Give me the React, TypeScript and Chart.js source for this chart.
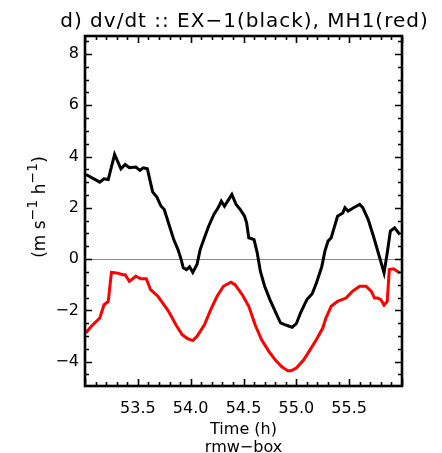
import { useEffect, useRef } from "react";
import { Chart, registerables } from "chart.js";

Chart.register(...registerables);

// EX-1 (black) series
const exTimes = [
  53.01, 53.14, 53.18, 53.22, 53.28, 53.34, 53.38, 53.42, 53.48, 53.52, 53.55, 53.59,
  53.64, 53.68, 53.72, 53.75, 53.8, 53.84, 53.88, 53.91, 53.93, 53.96, 53.99, 54.02,
  54.06, 54.09, 54.13, 54.17, 54.22, 54.26, 54.29, 54.32, 54.35, 54.39, 54.43, 54.47,
  54.51, 54.53, 54.55, 54.6, 54.63, 54.66, 54.7, 54.75, 54.8, 54.85, 54.89, 54.92,
  54.96, 55.0, 55.04, 55.1, 55.15, 55.19, 55.24, 55.27, 55.3, 55.33, 55.39, 55.44,
  55.46, 55.49, 55.55, 55.6, 55.63, 55.68, 55.73, 55.78, 55.83, 55.86, 55.89, 55.93,
  55.98,
];
const exValues = [
  3.3, 3.0, 3.13, 3.1, 4.08, 3.52, 3.69, 3.56, 3.59, 3.46, 3.56, 3.52,
  2.62, 2.42, 2.06, 1.93, 1.28, 0.76, 0.37, -0.02, -0.34, -0.41, -0.3, -0.52,
  -0.21, 0.37, 0.83, 1.28, 1.74, 2.0, 2.26, 2.06, 2.26, 2.52, 2.13, 1.93,
  1.67, 1.4, 0.83, 0.76, 0.24, -0.48, -1.06, -1.58, -2.04, -2.49, -2.56, -2.6,
  -2.66, -2.52, -2.1, -1.58, -1.35, -0.93, -0.31, 0.3, 0.7, 0.83, 1.67, 1.8,
  2.0, 1.87, 2.02, 2.13, 2.0, 1.54, 0.89, 0.18, -0.54, 0.24, 1.09, 1.22,
  0.96,
];

// MH1 (red) series
const mhTimes = [
  53.01, 53.06, 53.14, 53.18, 53.22, 53.25, 53.3, 53.36, 53.38, 53.42, 53.48, 53.53,
  53.58, 53.62, 53.69, 53.78, 53.8, 53.86, 53.92, 53.97, 54.02, 54.06, 54.13, 54.19,
  54.25, 54.31, 54.38, 54.42, 54.49, 54.55, 54.61, 54.67, 54.74, 54.8, 54.86, 54.92,
  54.95, 55.0, 55.07, 55.13, 55.19, 55.25, 55.28, 55.33, 55.39, 55.47, 55.53, 55.6,
  55.66, 55.71, 55.74, 55.77, 55.8, 55.83, 55.86, 55.88, 55.92, 55.98,
];
const mhValues = [
  -2.88, -2.62, -2.3, -1.78, -1.65, -0.52, -0.54, -0.61, -0.61, -0.87, -0.67, -0.77,
  -0.77, -1.19, -1.45, -1.97, -2.1, -2.56, -2.95, -3.1, -3.18, -3.01, -2.56, -1.97,
  -1.45, -1.06, -0.9, -1.0, -1.4, -1.84, -2.56, -3.14, -3.6, -3.93, -4.19, -4.36,
  -4.36, -4.25, -3.93, -3.54, -3.14, -2.69, -2.3, -1.84, -1.65, -1.52, -1.26, -1.06,
  -1.06, -1.26, -1.52, -1.52, -1.58, -1.8, -1.65, -0.41, -0.38, -0.54,
];

const xTickValues = [53.5, 54.0, 54.5, 55.0, 55.5];
const yTickValues = [-4, -2, 0, 2, 4, 6, 8];
const xRange = [53.0, 56.0];
const yRange = [-4.95, 8.7];

const chartTitle = "d) dv/dt :: EX\u22121(black), MH1(red)";
const xTitleLines = ["Time (h)", "rmw\u2212box"];

const FONT = "'DejaVu Sans', sans-serif";

const framePlugin = {
  id: "idlFrame",
  afterDatasetsDraw(chart: any) {
    const { ctx, chartArea: a, scales } = chart;
    const xs = scales.x;
    const ys = scales.y;
    ctx.save();
    ctx.strokeStyle = "#000";
    ctx.lineWidth = 1.6;
    ctx.beginPath();
    for (let i = 0; i <= 30; i++) {
      const v = xRange[0] + i * 0.1;
      const px = Math.round(xs.getPixelForValue(v)) + 0.5;
      const len = i % 5 === 0 ? 7 : 4;
      ctx.moveTo(px, a.bottom);
      ctx.lineTo(px, a.bottom - len);
      ctx.moveTo(px, a.top);
      ctx.lineTo(px, a.top + len);
    }
    for (let i = -10; i <= 17; i++) {
      const v = i * 0.5;
      if (v < yRange[0] || v > yRange[1]) continue;
      const py = Math.round(ys.getPixelForValue(v)) + 0.5;
      const len = i % 4 === 0 ? 7 : 4;
      ctx.moveTo(a.left, py);
      ctx.lineTo(a.left + len, py);
      ctx.moveTo(a.right, py);
      ctx.lineTo(a.right - len, py);
    }
    ctx.stroke();
    ctx.lineWidth = 2.6;
    ctx.strokeRect(a.left, a.top, a.right - a.left, a.bottom - a.top);
    ctx.restore();
  },
  afterDraw(chart: any) {
    const { ctx, chartArea: a } = chart;
    const cx = (a.left + a.right) / 2;
    ctx.save();
    ctx.fillStyle = "#000";
    ctx.textAlign = "center";
    ctx.textBaseline = "alphabetic";
    ctx.font = `20px ${FONT}`;
    (ctx as any).letterSpacing = "1px";
    ctx.fillText(chartTitle, cx + 1, 27);
    (ctx as any).letterSpacing = "0px";

    ctx.font = `16px ${FONT}`;
    ctx.fillText(xTitleLines[0], cx, 434);
    ctx.fillText(xTitleLines[1], cx, 452);

    // rotated y title with superscripts
    const parts: [string, boolean][] = [
      ["(m s", false],
      ["\u22121", true],
      [" h", false],
      ["\u22121", true],
      [")", false],
    ];
    const baseFont = `17px ${FONT}`;
    const supFont = `14px ${FONT}`;
    let total = 0;
    const widths = parts.map(([t, sup]) => {
      ctx.font = sup ? supFont : baseFont;
      const w = ctx.measureText(t).width;
      total += w;
      return w;
    });
    ctx.translate(45, 207);
    ctx.rotate(-Math.PI / 2);
    ctx.textAlign = "left";
    let x = -total / 2;
    parts.forEach(([t, sup], i) => {
      ctx.font = sup ? supFont : baseFont;
      ctx.fillText(t, x, sup ? -8 : 0);
      x += widths[i];
    });
    ctx.restore();
  },
};

export default function App() {
  const canvasRef = useRef<HTMLCanvasElement | null>(null);

  useEffect(() => {
    if (!canvasRef.current) return;
    const chart = new Chart(canvasRef.current, {
      type: "line",
      data: {
        datasets: [
          {
            label: "EX-1",
            data: exTimes.map((t, i) => ({ x: t, y: exValues[i] })),
            borderColor: "#000000",
            borderWidth: 3,
            pointRadius: 0,
            tension: 0,
            fill: false,
          },
          {
            label: "MH1",
            data: mhTimes.map((t, i) => ({ x: t, y: mhValues[i] })),
            borderColor: "#ff0000",
            borderWidth: 3,
            pointRadius: 0,
            tension: 0,
            fill: false,
          },
        ],
      },
      options: {
        animation: false,
        responsive: false,
        devicePixelRatio: 1,
        layout: { padding: { left: 0, right: 40, top: 36, bottom: 0 } },
        plugins: {
          legend: { display: false },
          title: { display: false },
          tooltip: { enabled: false },
        },
        scales: {
          x: {
            type: "linear",
            min: xRange[0],
            max: xRange[1],
            afterBuildTicks: (scale: any) => {
              scale.ticks = xTickValues.map((v) => ({ value: v }));
            },
            afterFit: (scale: any) => {
              scale.height = 67;
            },
            grid: { display: false, drawTicks: false },
            border: { display: false },
            ticks: {
              autoSkip: false,
              maxRotation: 0,
              padding: 13,
              color: "#000",
              font: { family: FONT, size: 16 },
              callback: (v: any) => Number(v).toFixed(1),
            },
          },
          y: {
            type: "linear",
            min: yRange[0],
            max: yRange[1],
            afterBuildTicks: (scale: any) => {
              scale.ticks = yTickValues.map((v) => ({ value: v }));
            },
            afterFit: (scale: any) => {
              scale.width = 85;
            },
            grid: {
              drawTicks: false,
              color: (c: any) => (c.tick && c.tick.value === 0 ? "#8c8c8c" : "rgba(0,0,0,0)"),
              lineWidth: 1,
            },
            border: { display: false },
            ticks: {
              autoSkip: false,
              padding: 6,
              color: "#000",
              font: { family: FONT, size: 16 },
              callback: (v: any) => (Number(v) < 0 ? "\u2212" + Math.abs(Number(v)) : String(v)),
            },
          },
        },
      },
      plugins: [framePlugin],
    });
    return () => chart.destroy();
  }, []);

  return (
    <div style={{ position: "absolute", left: 0, top: 0, width: 442, height: 453, background: "#fff" }}>
      <canvas ref={canvasRef} width={442} height={453} style={{ display: "block" }} />
    </div>
  );
}
